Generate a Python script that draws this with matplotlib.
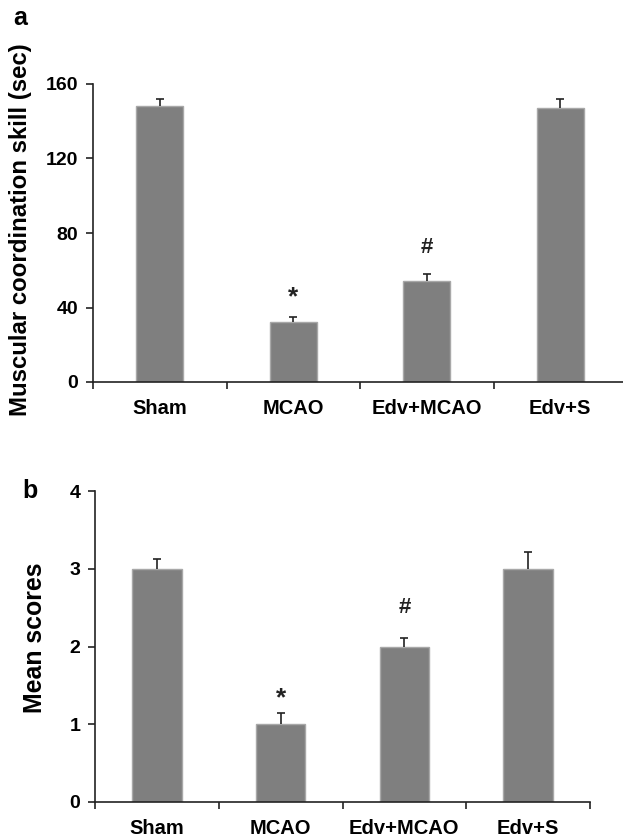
import matplotlib
matplotlib.use("Agg")
import matplotlib.pyplot as plt
import numpy as np

plt.rcParams['font.family'] = ['Liberation Sans', 'DejaVu Sans']
plt.rcParams['font.weight'] = 'bold'

categories = ["Sham", "MCAO", "Edv+MCAO", "Edv+S"]

# Panel a
coord_means = [148, 32, 54, 147]
coord_errs = [4, 3, 4, 5]
coord_ticks = [0, 40, 80, 120, 160]

# Panel b
score_means = [3.0, 1.0, 2.0, 3.0]
score_errs = [0.12, 0.15, 0.11, 0.21]
score_ticks = [0, 1, 2, 3, 4]

# significance marks: (category index, symbol, y position)
marks_a = [(1, "*", 45.5), (2, "#", 72)]
marks_b = [(1, "*", 1.34), (2, "#", 2.5)]

W, H = 623, 839
fig = plt.figure(figsize=(W / 100, H / 100), dpi=100)

bar_color = "#7f7f7f"
edge_color = "#a8a8a8"
line_color = "#222222"


def px_axes(l, t, r, b):
    return fig.add_axes([l / W, 1 - b / H, (r - l) / W, (b - t) / H])


def draw(ax, means, errs, ticks, ylabel, ylsize, marks, width, ymax):
    x = np.arange(len(categories)) + 0.5
    ax.bar(x, means, width=width, color=bar_color, edgecolor=edge_color,
           linewidth=1.0, zorder=2)
    eb = ax.errorbar(x, means, yerr=[np.zeros(len(errs)), errs], fmt='none',
                     ecolor=line_color, elinewidth=1.2, capsize=2.8,
                     capthick=1.2, zorder=3)
    eb[1][0].set_visible(False)
    ax.set_xlim(0, len(categories))
    ax.set_ylim(0, ymax)
    ax.set_yticks(ticks)
    ax.set_yticklabels([str(t) for t in ticks], fontsize=14, fontweight='bold')
    ax.set_xticks(np.arange(len(categories) + 1))
    ax.set_xticklabels([])
    ax.set_xticks(x, minor=True)
    ax.set_xticklabels(categories, minor=True, fontsize=14.5, fontweight='bold')
    ax.tick_params(axis='x', which='major', direction='out', length=5,
                   width=1.2, color=line_color)
    ax.tick_params(axis='x', which='minor', length=0, pad=12)
    ax.tick_params(axis='y', direction='out', length=5, width=1.2,
                   color=line_color, pad=5.5)
    for s in ['top', 'right']:
        ax.spines[s].set_visible(False)
    for s in ['left', 'bottom']:
        ax.spines[s].set_color(line_color)
        ax.spines[s].set_linewidth(1.2)
    ax.set_ylabel(ylabel, fontsize=ylsize, fontweight='bold')
    for i, sym, yy in marks:
        fs = 19 if sym == "*" else 16
        ax.text(x[i], yy, sym, ha='center', va='center', fontsize=fs,
                fontweight='bold', color=line_color)


ax1 = px_axes(93, 84, 627, 382)
draw(ax1, coord_means, coord_errs, coord_ticks,
     "Muscular coordination skill (sec)", 17.3, marks_a, 0.35, 160)
ax1.yaxis.set_label_coords(-0.114, 0.51)

ax2 = px_axes(95, 491, 590, 802)
draw(ax2, score_means, score_errs, score_ticks, "Mean scores", 17.9,
     marks_b, 0.4, 4)
ax2.yaxis.set_label_coords(-0.097, 0.527)

fig.text(20 / W, 1 - 18 / H, "a", fontsize=18, fontweight='bold',
         ha='center', va='center')
fig.text(29.5 / W, 1 - 491 / H, "b", fontsize=18, fontweight='bold',
         ha='center', va='center')

fig.savefig("out.png", dpi=100)
